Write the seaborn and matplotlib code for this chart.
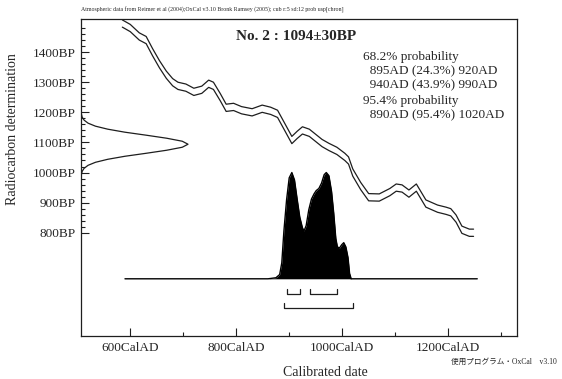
import numpy as np
import pandas as pd
import seaborn as sns
import matplotlib.pyplot as plt
from matplotlib.ticker import FixedLocator

# calibration curve (centre of the +-1 sigma band)
cal_year = [585, 600, 617, 630, 642, 655, 668, 680, 690, 705, 720, 735, 748, 757, 770,
            781, 795, 810, 830, 849, 865, 878, 892, 905, 915, 925, 938, 950, 962, 975,
            990, 1005, 1012, 1020, 1035, 1050, 1070, 1090, 1102, 1113, 1126, 1140, 1158,
            1180, 1196, 1205, 1215, 1226, 1240, 1248]
cal_bp = [1495, 1480, 1452, 1440, 1400, 1360, 1325, 1300, 1288, 1282, 1268, 1275, 1295,
          1288, 1250, 1215, 1218, 1207, 1200, 1212, 1205, 1195, 1150, 1108, 1125, 1140,
          1132, 1115, 1098, 1085, 1072, 1052, 1040, 1000, 955, 918, 917, 935, 950, 947,
          930, 950, 897, 880, 873, 868, 847, 810, 800, 800]
cal_sigma = 12

# radiocarbon date 1094 +- 30 BP, relative height along the y axis
date_bp = [994, 1004, 1014, 1024, 1034, 1044, 1054, 1064, 1074, 1084, 1094,
           1104, 1114, 1124, 1134, 1144, 1154, 1164, 1174, 1184, 1194]
date_prob = [0.004, 0.011, 0.029, 0.066, 0.135, 0.25, 0.41, 0.61, 0.80, 0.946, 1.0,
             0.946, 0.80, 0.61, 0.41, 0.25, 0.135, 0.066, 0.029, 0.011, 0.004]

# calibrated (posterior) distribution, relative height
post_year = [590, 860, 875, 882, 886, 890, 895, 900, 905, 910, 915, 920, 925, 928, 932,
             937, 942, 947, 951, 956, 961, 966, 970, 975, 980, 984, 988, 991, 995, 999,
             1003, 1007, 1011, 1014, 1017, 1255]
post_prob = [0.0, 0.0, 0.01, 0.04, 0.15, 0.45, 0.74, 0.95, 1.0, 0.93, 0.75, 0.58, 0.48,
             0.45, 0.5, 0.65, 0.75, 0.8, 0.83, 0.85, 0.9, 0.98, 1.0, 0.97, 0.82, 0.62,
             0.38, 0.3, 0.29, 0.32, 0.34, 0.3, 0.2, 0.05, 0.0, 0.0]

range68 = [(895, 920), (940, 990)]
range95 = [(890, 1020)]

x_major = [600, 800, 1000, 1200]
x_minor = [700, 900, 1100, 1300]
y_major = [800, 900, 1000, 1100, 1200, 1300, 1400]

prob_lines = ["68.2% probability", "  895AD (24.3%) 920AD", "  940AD (43.9%) 990AD",
              "95.4% probability", "  890AD (95.4%) 1020AD"]

sns.set_theme(style="white")
plt.rcParams["font.family"] = ["Liberation Serif", "Noto Sans CJK JP"]
ink = "#1e1e1e"

fig = plt.figure(figsize=(5.62, 3.79), dpi=100)
ax = fig.add_axes([81 / 562, 1 - 336 / 379, 436 / 562, 317 / 379])
xlo, xhi = 507, 1330
ylo, yhi = 457, 1510
ax.set_xlim(xlo, xhi)
ax.set_ylim(ylo, yhi)

cal = pd.DataFrame({"year": cal_year, "bp": cal_bp})
sns.lineplot(x=cal["year"], y=cal["bp"] + cal_sigma, ax=ax, color=ink, lw=0.9)
sns.lineplot(x=cal["year"], y=cal["bp"] - cal_sigma, ax=ax, color=ink, lw=0.9)

# date on the y axis
g = pd.DataFrame({"bp": date_bp, "p": date_prob})
sns.lineplot(x=xlo + g["p"] * 202, y=g["bp"], ax=ax, sort=False, estimator=None,
             color=ink, lw=0.9)

# posterior distribution
base, scale = 647, 353
post = pd.DataFrame({"year": post_year, "p": post_prob})
ax.fill_between(post["year"], base, base + post["p"] * scale, color="black", lw=0)
sns.lineplot(x=post["year"], y=base + post["p"] * scale, ax=ax, color="black", lw=1.0)

# probability range brackets
for ranges, yb in [(range68, 597), (range95, 550)]:
    for a, b in ranges:
        ax.plot([a, a, b, b], [yb + 17, yb, yb, yb + 17], color=ink, lw=0.9)

ax.xaxis.set_major_locator(FixedLocator(x_major))
ax.xaxis.set_minor_locator(FixedLocator(x_minor))
ax.set_xticklabels([f"{v}CalAD" for v in x_major], fontsize=9.5)
ax.yaxis.set_major_locator(FixedLocator(y_major))
ax.yaxis.set_minor_locator(FixedLocator([v for v in range(820, 1510, 20) if v % 100]))
ax.set_yticklabels([f"{v}BP" for v in y_major], fontsize=9.5)
ax.tick_params(which="both", direction="in", color=ink, width=0.8, pad=4,
               bottom=True, left=True)
ax.tick_params(which="major", length=6)
ax.tick_params(which="minor", length=3)
for s in ax.spines.values():
    s.set_color(ink)
    s.set_linewidth(0.9)
ax.set_xlabel("")
ax.set_ylabel("")

fig.text(296 / 562, 1 - 37 / 379, "No. 2 : 1094\u00b130BP", ha="center", va="center",
         fontsize=11, fontweight="bold")
for txt, yy in zip(prob_lines, [57, 71.5, 85.5, 101, 115]):
    fig.text(363 / 562, 1 - yy / 379, txt, ha="left", va="center", fontsize=9.5)

fig.text(13 / 562, 1 - 129 / 379, "Radiocarbon determination", rotation=90,
         ha="center", va="center", fontsize=10)
fig.text(325 / 562, 1 - 372 / 379, "Calibrated date", ha="center", va="center",
         fontsize=10)
fig.text(81 / 562, 1 - 10 / 379,
         "Atmospheric data from Reimer et al (2004);OxCal v3.10 Bronk Ramsey (2005); "
         "cub r:5 sd:12 prob usp[chron]", ha="left", va="center", fontsize=4.2)
fig.text(557 / 562, 1 - 362 / 379, "使用プログラム・OxCal\u3000v3.10", ha="right",
         va="center", fontsize=5.5)

fig.savefig("out.png", dpi=100)
